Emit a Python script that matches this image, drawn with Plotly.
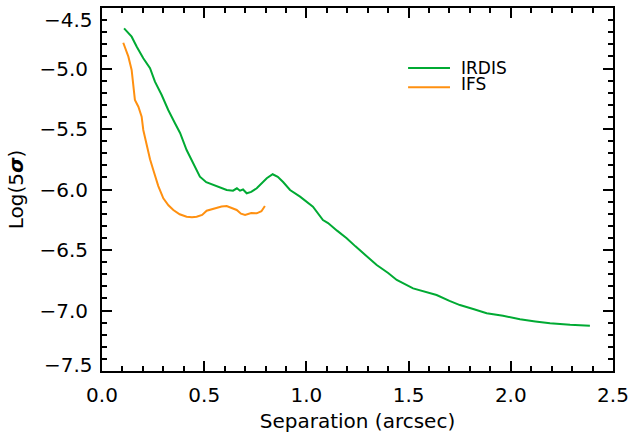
import plotly.graph_objects as go

# IRDIS contrast curve (separation in arcsec, log10 of 5-sigma contrast)
irdis_sep = [0.108, 0.145, 0.170, 0.202, 0.235, 0.259, 0.292, 0.324, 0.357, 0.382,
             0.414, 0.450, 0.479, 0.510, 0.543, 0.575, 0.610, 0.641, 0.660, 0.675,
             0.690, 0.708, 0.730, 0.757, 0.780, 0.806, 0.835, 0.860, 0.886, 0.920,
             0.969, 1.032, 1.081, 1.106, 1.150, 1.197, 1.240, 1.277, 1.344, 1.400,
             1.442, 1.522, 1.580, 1.637, 1.700, 1.751, 1.820, 1.882, 1.962, 2.045,
             2.120, 2.192, 2.290, 2.387]
irdis_val = [-4.668, -4.737, -4.820, -4.916, -4.998, -5.109, -5.219, -5.343, -5.453, -5.533,
             -5.674, -5.790, -5.894, -5.940, -5.963, -5.985, -6.004, -6.010, -5.990, -6.010,
             -6.000, -6.031, -6.020, -5.990, -5.950, -5.907, -5.874, -5.895, -5.938, -6.004,
             -6.059, -6.142, -6.252, -6.277, -6.340, -6.403, -6.470, -6.527, -6.624, -6.690,
             -6.748, -6.817, -6.845, -6.872, -6.920, -6.955, -6.990, -7.023, -7.043, -7.073,
             -7.090, -7.106, -7.118, -7.126]

# IFS contrast curve
ifs_sep = [0.104, 0.117, 0.129, 0.145, 0.153, 0.161, 0.178, 0.194, 0.202, 0.219,
           0.235, 0.251, 0.275, 0.300, 0.325, 0.349, 0.380, 0.414, 0.440, 0.463,
           0.490, 0.512, 0.540, 0.561, 0.585, 0.610, 0.635, 0.659, 0.680, 0.700,
           0.730, 0.757, 0.780, 0.797]
ifs_val = [-4.787, -4.847, -4.902, -5.012, -5.150, -5.260, -5.316, -5.398, -5.508, -5.646,
           -5.750, -5.839, -5.970, -6.073, -6.130, -6.169, -6.205, -6.225, -6.230, -6.225,
           -6.210, -6.175, -6.160, -6.155, -6.140, -6.136, -6.150, -6.169, -6.200, -6.211,
           -6.195, -6.197, -6.180, -6.136]

x_ticks = [0.0, 0.5, 1.0, 1.5, 2.0, 2.5]
x_labels = ["0.0", "0.5", "1.0", "1.5", "2.0", "2.5"]
y_ticks = [-4.5, -5.0, -5.5, -6.0, -6.5, -7.0, -7.5]
# edge labels are drawn separately (pushed inward, IDL style)
y_labels = ["", "\u22125.0", "\u22125.5", "\u22126.0", "\u22126.5", "\u22127.0", ""]
y_edge_vals = [-4.5, -7.5]
y_edge_labels = ["\u22124.5", "\u22127.5"]
y_edge_shift = [-12, 6]

GREEN = "#00AA33"
ORANGE = "#FF9010"
FONT = "DejaVu Sans"
TICK_SIZE = 20

fig = go.Figure()
fig.add_trace(go.Scatter(x=irdis_sep, y=irdis_val, mode="lines", name="IRDIS",
                         line=dict(color=GREEN, width=2), showlegend=False))
fig.add_trace(go.Scatter(x=ifs_sep, y=ifs_val, mode="lines", name="IFS",
                         line=dict(color=ORANGE, width=2), showlegend=False))

axis_common = dict(
    showline=True, linecolor="black", linewidth=2, mirror="ticks",
    ticks="inside", ticklen=10, tickwidth=1.5, tickcolor="black",
    showgrid=False, zeroline=False, automargin=False,
    tickfont=dict(family=FONT, size=TICK_SIZE, color="black"),
    ticklabeloverflow="allow",
    minor=dict(ticks="inside", ticklen=5, tickwidth=1.5, tickcolor="black", dtick=0.1, showgrid=False),
)

fig.update_xaxes(range=[0, 2.5], tickvals=x_ticks, ticktext=x_labels, ticklabelstandoff=5,
                 title=dict(text="Separation (arcsec)", font=dict(family=FONT, size=20, color="black"), standoff=8),
                 **axis_common)
fig.update_yaxes(range=[-7.5, -4.5], tickvals=y_ticks, ticktext=y_labels, ticklabelstandoff=8,
                 title=dict(text="Log(5<b><i>σ</i></b>)", font=dict(family=FONT, size=20, color="black"), standoff=10),
                 **axis_common)

for v, t, s in zip(y_edge_vals, y_edge_labels, y_edge_shift):
    fig.add_annotation(text=t, xref="paper", yref="y", x=0, y=v, xanchor="right", yanchor="middle",
                       xshift=-8, yshift=s, showarrow=False, borderpad=0,
                       font=dict(family=FONT, size=TICK_SIZE, color="black"))

# legend drawn manually (tight IDL-style legend)
fig.add_shape(type="line", xref="paper", yref="paper", x0=0.599, x1=0.681, y0=0.835, y1=0.835,
              line=dict(color=GREEN, width=2))
fig.add_shape(type="line", xref="paper", yref="paper", x0=0.599, x1=0.681, y0=0.782, y1=0.782,
              line=dict(color=ORANGE, width=2))
fig.add_annotation(text="IRDIS", xref="paper", yref="paper", x=0.700, y=0.835, xanchor="left",
                   yanchor="middle", showarrow=False, borderpad=0,
                   font=dict(family=FONT, size=17, color="black"))
fig.add_annotation(text="IFS", xref="paper", yref="paper", x=0.700, y=0.792, xanchor="left",
                   yanchor="middle", showarrow=False, borderpad=0,
                   font=dict(family=FONT, size=17, color="black"))

fig.update_layout(
    width=630, height=436,
    margin=dict(l=102, r=17, t=8, b=65),
    paper_bgcolor="white", plot_bgcolor="white",
    font=dict(family=FONT, color="black"),
)

# remove the default page margin so the 630x436 figure fills the window exactly
fig.write_html("out.html", config={"displayModeBar": False},
               post_script="document.body.style.margin='0';document.body.style.overflow='hidden';")
